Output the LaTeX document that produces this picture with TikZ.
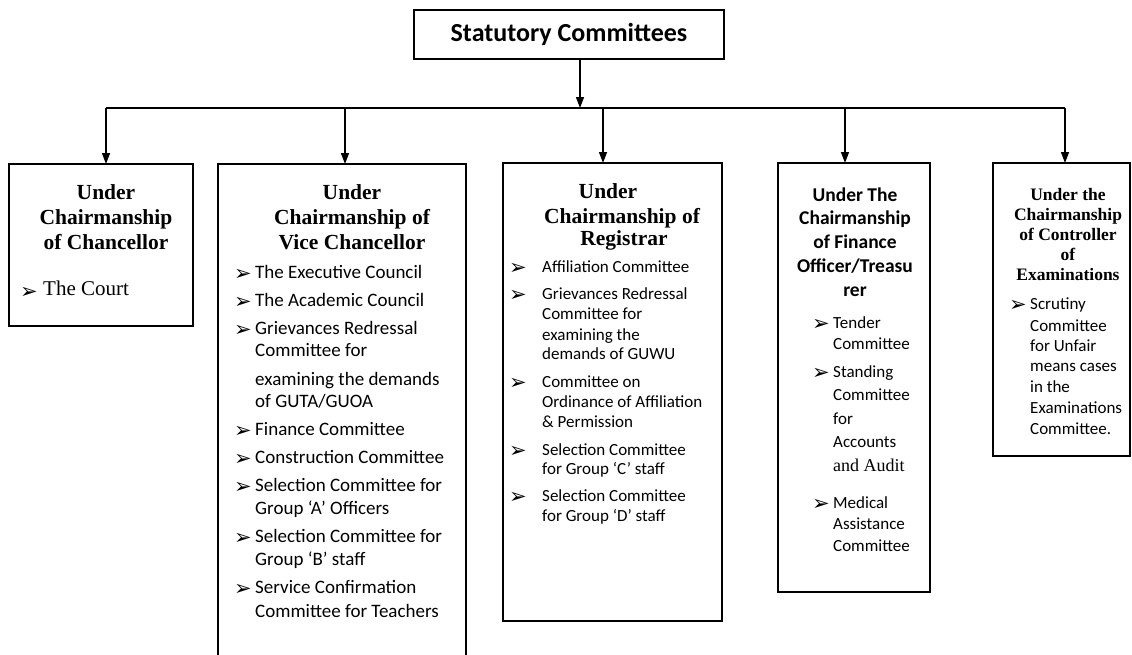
\documentclass[tikz,border=0pt]{standalone}
\usepackage{fontspec}
\setmainfont{Liberation Serif}
\newfontfamily\calfont{Carlito}
\newfontfamily\dvfont{DejaVu Sans}
\usetikzlibrary{arrows.meta}
\begin{document}
\begin{tikzpicture}[x=1pt,y=-1pt,
  box/.style={draw, line width=1.5pt, inner sep=0pt, outer sep=0pt},
  arr/.style={line width=1.3pt, -{Triangle[width=8pt,length=11pt]}},
  link/.style={line width=1.3pt},
  hdserif/.style={font=\fontsize{21.5}{25}\selectfont\bfseries, inner sep=0pt, anchor=mid, yshift=-4pt},
  hdsmall/.style={font=\fontsize{17.5}{20}\selectfont\bfseries, inner sep=0pt, anchor=mid, yshift=-3pt},
  hdsans/.style={font=\calfont\fontsize{19.5}{24}\selectfont\bfseries, inner sep=0pt, anchor=mid, yshift=-3pt},
  itbig/.style={font=\calfont\fontsize{19}{22}\selectfont, inner sep=0pt, anchor=mid west, yshift=-2pt},
  itsmall/.style={font=\calfont\fontsize{17}{20}\selectfont, inner sep=0pt, anchor=mid west, yshift=-2pt},
  itserif/.style={font=\fontsize{21}{24}\selectfont, inner sep=0pt, anchor=mid west, yshift=-2pt},
  bul/.style={font=\dvfont\fontsize{21}{22}\selectfont, inner sep=0pt, anchor=center, yshift=-1pt}
]
\useasboundingbox (0,0) rectangle (1132,654);
\clip (0,0) rectangle (1132,654);

% top box
\node[box, minimum width=310pt, minimum height=49pt, font=\calfont\fontsize{26}{30}\selectfont\bfseries] (top) at (569,34.5) {Statutory Committees};

% child boxes
\node[box, minimum width=184pt, minimum height=162pt] (b1) at (101,245) {};
\node[box, minimum width=248pt, minimum height=536pt] (b2) at (342,432) {};
\node[box, minimum width=219pt, minimum height=458pt] (b3) at (612.5,392) {};
\node[box, minimum width=152pt, minimum height=429pt] (b4) at (854,377.5) {};
\node[box, minimum width=137pt, minimum height=293pt] (b5) at (1061.5,309.5) {};

% connectors
\coordinate (jt) at (580,108);
\coordinate (j1) at (106,108);
\coordinate (j2) at (345,108);
\coordinate (j3) at (603,108);
\coordinate (j4) at (845,108);
\coordinate (j5) at (1065,108);
\draw[arr] ([xshift=11pt]top.south) -- (jt);
\draw[link] (j1) -- (j5);
\foreach \i in {1,...,5} \draw[arr] (j\i) -- (j\i |- b\i.north);

% box 1
\node[hdserif] (h1a) at (106,193) {Under};
\node[hdserif] (h1b) at (106,218) {Chairmanship};
\node[hdserif] (h1c) at (106,243) {of Chancellor};
\node[bul] (c1b) at (29,292) {➢};
\node[itserif] (c1t) at (43,291) {The Court};

% box 2
\node[hdserif] (h2a) at (352,193) {Under};
\node[hdserif] (h2b) at (352,218) {Chairmanship of};
\node[hdserif] (h2c) at (352,243) {Vice Chancellor};
\foreach \myy [count=\i] in {274,302,330,431,459,487,538,589}
  \node[bul] (vb\i) at (243,\myy) {➢};
\foreach \myy/\mytext [count=\i] in {274/The Executive Council, 302/The Academic Council,
  330/Grievances Redressal, 352/Committee for, 381/examining the demands, 403/{of GUTA/GUOA},
  431/Finance Committee, 459/Construction Committee, 487/Selection Committee for,
  510/Group ‘A’ Officers, 538/Selection Committee for, 561/Group ‘B’ staff,
  589/Service Confirmation, 613/Committee for Teachers}
  \node[itbig] (v\i) at (255,\myy) {\mytext};

% box 3
\node[hdserif] (h3a) at (608,192) {Under};
\node[hdserif] (h3b) at (622,217) {Chairmanship of};
\node[hdserif] (h3c) at (624,239) {Registrar};
\foreach \myy [count=\i] in {268,295,383,451,497}
  \node[bul] (rb\i) at (518,\myy) {➢};
\foreach \myy/\mytext [count=\i] in {268/Affiliation Committee, 295/Grievances Redressal,
  315/Committee for, 336/examining the, 355/demands of GUWU, 383/Committee on,
  403/Ordinance of Affiliation, 423/\& Permission, 451/Selection Committee,
  470/for Group ‘C’ staff, 497/Selection Committee, 517/for Group ‘D’ staff}
  \node[itsmall] (r\i) at (542,\myy) {\mytext};

% box 4
\foreach \myy/\mytext [count=\i] in {196/Under The, 219/Chairmanship, 243/of Finance,
  267/{Officer/Treasu}, 291/rer}
  \node[hdsans] (h4\i) at (855,\myy) {\mytext};
\foreach \myy [count=\i] in {324,373,504}
  \node[bul] (fb\i) at (821,\myy) {➢};
\foreach \myy/\mytext [count=\i] in {324/Tender, 345/Committee, 373/Standing, 396/Committee,
  420/for, 443/Accounts, 467/{\rmfamily\fontsize{18}{20}\selectfont and Audit}, 504/Medical,
  525/Assistance, 547/Committee}
  \node[itsmall] (f\i) at (833,\myy) {\mytext};

% box 5
\foreach \myy/\mytext [count=\i] in {195/Under the, 215/Chairmanship, 235/of Controller,
  255/of, 275/Examinations}
  \node[hdsmall] (h5\i) at (1068,\myy) {\mytext};
\node[bul] (eb1) at (1018,305) {➢};
\foreach \myy/\mytext [count=\i] in {305/Scrutiny, 327/Committee, 347/for Unfair,
  367/means cases, 388/in the, 409/Examinations, 430/Committee.}
  \node[itsmall] (e\i) at (1030,\myy) {\mytext};
\end{tikzpicture}
\end{document}
